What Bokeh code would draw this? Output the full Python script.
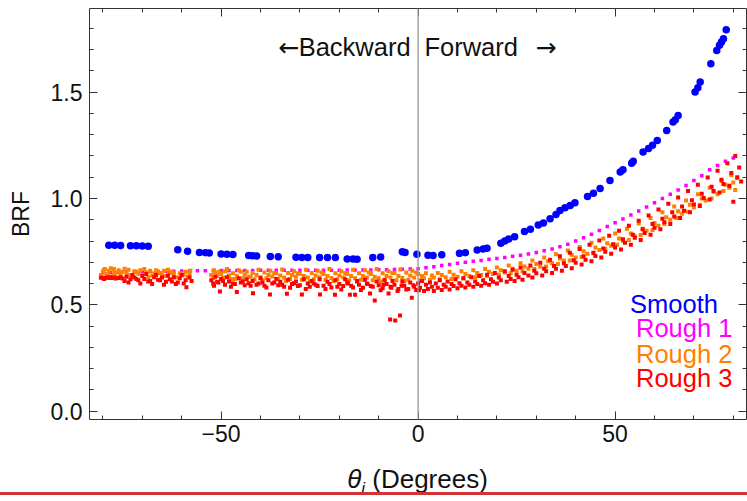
from bokeh.plotting import figure
from bokeh.models import Range1d, FixedTicker, LinearAxis, Span, Label, Div, PrintfTickFormatter
from bokeh.layouts import column
from bokeh.embed import file_html
from bokeh.resources import INLINE

# ---------------- data ----------------
smooth_x = [-78.5, -77, -75.5, -73, -71.5, -70, -68.5, -61, -58.5, -55.5, -54, -53,
            -50, -48.5, -47, -43, -42, -41, -37.5, -35.5, -31, -29.5, -28, -25, -23, -21,
            -18, -16.5, -15.5, -11.5, -9.5, -4, -3.3, -0.3, 2.5, 3.8, 6, 10.5, 12,
            15, 16.5, 17.5, 21, 22, 23, 24.5, 27, 28.5, 30.5, 31.8, 33.5, 35, 36, 37.3,
            38.6, 39.8, 43, 44.5, 46.2, 48.7, 51.3, 52, 54.2, 54.6, 57.1, 58.5, 59.5,
            60.7, 63.1, 64.7, 65.3, 66, 70.3, 71, 71.6, 74.3, 75.8, 76.5, 77, 77.5, 78.2]
smooth_y = [0.780, 0.780, 0.779, 0.778, 0.778, 0.776, 0.775, 0.759, 0.752, 0.746, 0.745, 0.744,
            0.739, 0.738, 0.737, 0.732, 0.731, 0.730, 0.727, 0.726, 0.724, 0.723, 0.723, 0.723,
            0.723, 0.722, 0.716, 0.715, 0.714, 0.723, 0.725, 0.749, 0.746, 0.738, 0.733, 0.732,
            0.735, 0.742, 0.745, 0.758, 0.763, 0.766, 0.790, 0.800, 0.810, 0.820, 0.845, 0.855,
            0.875, 0.885, 0.905, 0.925, 0.943, 0.956, 0.967, 0.980, 1.009, 1.025, 1.047, 1.085,
            1.124, 1.135, 1.166, 1.175, 1.218, 1.235, 1.250, 1.273, 1.320, 1.359, 1.370, 1.390,
            1.500, 1.520, 1.547, 1.633, 1.696, 1.720, 1.735, 1.751, 1.793]

rough1_x = [-80, -78, -76, -74, -72, -70, -68, -66, -64, -62, -60, -58, -56, -54, -52, -50,
            -48, -46, -44, -42, -40, -38, -36, -34, -32, -30, -28, -26, -24, -22, -20, -18,
            -16, -14, -12, -10, -8, -6, -4, -2, 0, 2, 4, 6, 8, 10, 12, 14, 16, 18, 20, 22,
            24, 26, 28, 30, 32, 34, 36, 38, 40, 42, 44, 46, 48, 50, 52, 54, 56, 58, 60, 62,
            64, 66, 68, 70, 72, 74, 76, 78, 80]
rough1_y = [0.650, 0.652, 0.653, 0.654, 0.655, 0.656, 0.657, 0.657, 0.658, 0.658, 0.659, 0.659,
            0.660, 0.660, 0.660, 0.661, 0.661, 0.661, 0.661, 0.661, 0.662, 0.662, 0.662, 0.662,
            0.662, 0.662, 0.663, 0.663, 0.663, 0.663, 0.663, 0.664, 0.664, 0.664, 0.664, 0.665,
            0.665, 0.666, 0.667, 0.668, 0.670, 0.674, 0.679, 0.685, 0.690, 0.695, 0.700, 0.705,
            0.709, 0.714, 0.718, 0.723, 0.728, 0.733, 0.739, 0.746, 0.754, 0.763, 0.773, 0.785,
            0.800, 0.815, 0.832, 0.850, 0.868, 0.886, 0.904, 0.922, 0.941, 0.960, 0.980, 1.000,
            1.020, 1.040, 1.061, 1.085, 1.107, 1.135, 1.155, 1.175, 1.190]

rough2_x = [-80.5, -80, -79.5, -79, -78.5, -78, -77.5, -77, -76, -75.5, -75, -74, -73.5, -73,
            -72, -71, -70.5, -70, -69, -68, -67.5, -67, -66, -65, -64.5, -64, -63, -62, -61.5,
            -60.5, -60, -59, -58.5, -58, -52.5, -52, -51.5, -51, -50, -49.5, -49, -48, -47.5,
            -47, -46, -45, -44.5, -44, -43, -42, -41.5, -41, -40, -39, -38.5, -38, -37, -36,
            -35.5, -35, -34, -33, -32.5, -32, -31, -30, -29.5, -29, -28, -27, -26.5, -26, -25,
            -24, -23.5, -23, -22, -21, -20.5, -20, -19, -18, -17.5, -17, -16, -15, -14.5, -14,
            -13, -12, -11.5, -11, -10, -9, -8.5, -8, -7, -6, -5.5, -5, -4, -3, -2.5, -2, -1, 0,
            0.5, 1, 1.5, 2, 3, 3.5, 4, 5, 5.5, 6, 7, 8, 8.5, 9, 10, 11, 11.5, 12, 13, 14, 14.5,
            15, 16, 17, 17.5, 18, 19, 20, 20.5, 21, 22, 23, 23.5, 24, 25, 26, 26.5, 27, 28, 29,
            29.5, 30, 31, 32, 32.5, 33, 34, 35, 35.5, 36, 37, 38, 38.5, 39, 40, 41, 41.5, 42,
            43, 44, 44.5, 45, 46, 47, 47.5, 48, 49, 50, 50.5, 51, 52, 53, 53.5, 54, 55, 56,
            56.5, 57, 58, 59, 59.5, 60, 61, 62, 62.5, 63, 64, 65, 65.5, 66, 67, 68, 68.5, 69,
            70, 71, 71.5, 72, 73, 74, 74.5, 75, 76, 77, 77.5, 78, 79, 79.5, 80, 80.5, 81,
            -79.8, -78.8, -77.2, -76.5, -74.5, -72.5, -71.5, -69.5, -68.5, -66.5, -65.5, -63.5,
            -62.5, -59.5, -57.8, -51.8, -50.5, -48.5, -46.5, -45.5, -43.5, -42.5, -40.5, -39.5,
            -37.5, -36.5, -34.5, -33.5, -31.5, -30.5, -28.5, -27.5, -25.5, -24.5, -22.5, -21.5,
            -19.5, -18.5, -16.5, -15.5, -13.5, -12.5, -10.5, -9.5, -7.5, -6.5, -4.5, -3.5,
            -1.5, -0.5]
rough2_y = [0.640, 0.655, 0.668, 0.645, 0.660, 0.672, 0.638, 0.650, 0.662, 0.645, 0.655, 0.648,
            0.665, 0.640, 0.658, 0.646, 0.662, 0.640, 0.652, 0.660, 0.638, 0.648, 0.656, 0.642,
            0.660, 0.635, 0.650, 0.645, 0.630, 0.648, 0.638, 0.655, 0.632, 0.645, 0.640, 0.625,
            0.652, 0.635, 0.645, 0.628, 0.658, 0.638, 0.622, 0.648, 0.635, 0.655, 0.625, 0.642,
            0.632, 0.650, 0.620, 0.640, 0.630, 0.652, 0.625, 0.640, 0.633, 0.648, 0.620, 0.638,
            0.628, 0.650, 0.622, 0.640, 0.632, 0.646, 0.618, 0.636, 0.628, 0.650, 0.620, 0.638,
            0.630, 0.645, 0.618, 0.635, 0.626, 0.648, 0.620, 0.638, 0.628, 0.645, 0.615, 0.635,
            0.625, 0.648, 0.618, 0.636, 0.628, 0.645, 0.615, 0.632, 0.625, 0.648, 0.618, 0.636,
            0.628, 0.650, 0.615, 0.635, 0.626, 0.652, 0.618, 0.638, 0.628, 0.645, 0.615, 0.635,
            0.625, 0.648, 0.618, 0.638, 0.628, 0.650, 0.620, 0.640, 0.630, 0.655, 0.622, 0.642,
            0.632, 0.658, 0.625, 0.645, 0.636, 0.662, 0.630, 0.650, 0.640, 0.668, 0.635, 0.655,
            0.645, 0.675, 0.642, 0.662, 0.652, 0.685, 0.648, 0.670, 0.660, 0.695, 0.658, 0.680,
            0.670, 0.708, 0.668, 0.692, 0.680, 0.722, 0.680, 0.705, 0.695, 0.738, 0.692, 0.718,
            0.708, 0.755, 0.708, 0.735, 0.722, 0.772, 0.725, 0.752, 0.740, 0.792, 0.742, 0.770,
            0.758, 0.812, 0.762, 0.790, 0.778, 0.835, 0.782, 0.812, 0.800, 0.858, 0.805, 0.835,
            0.822, 0.882, 0.828, 0.858, 0.848, 0.908, 0.852, 0.885, 0.872, 0.935, 0.880, 0.912,
            0.900, 0.962, 0.908, 0.940, 0.928, 0.990, 0.938, 0.970, 0.958, 1.020, 0.970, 1.000,
            0.990, 1.050, 1.000, 1.032, 1.020, 1.082, 1.035, 1.065, 1.050, 1.110, 1.075, 1.040,
            1.095,
            0.662, 0.635, 0.668, 0.652, 0.670, 0.632, 0.655, 0.668, 0.630, 0.662, 0.650, 0.665,
            0.655, 0.642, 0.660, 0.662, 0.655, 0.668, 0.622, 0.662, 0.655, 0.632, 0.665, 0.615,
            0.660, 0.650, 0.666, 0.612, 0.658, 0.648, 0.665, 0.610, 0.660, 0.652, 0.668, 0.612,
            0.658, 0.650, 0.665, 0.608, 0.662, 0.652, 0.668, 0.610, 0.658, 0.650, 0.666, 0.612,
            0.660, 0.652]

rough3_x = [-80.5, -80, -79.5, -79, -78.5, -78, -77.5, -77, -76.5, -76, -75.5, -75, -74, -73,
            -72.5, -72, -71, -70, -69.5, -69, -68, -67, -66.5, -66, -65, -64, -63.5, -63, -62,
            -61, -60.5, -60, -59, -58.8, -58, -57.5, -52.5, -52, -51.5, -51, -50.3, -50, -49,
            -48.5, -48, -47, -46, -45.5, -45, -44, -43.5, -43, -42, -41.9, -41, -40, -39.5,
            -39, -38, -37.6, -37, -36, -35.5, -35, -34, -33.3, -33, -32, -31, -30.5, -29.5,
            -29, -28, -27.5, -27, -26, -25, -24.9, -24, -23, -22, -21.1, -21, -20, -19, -18.5,
            -18, -17.3, -17, -16, -15.5, -15, -14, -13.5, -13, -12.2, -12, -11, -10.5, -10,
            -9, -8.5, -8, -7.5, -7.1, -7, -6.5, -6, -5.8, -5, -4.6, -4, -3.5, -3, -2, -1.6, -1,
            -0.5, 0, 0.5, 1, 1.5, 2, 2.5, 3, 3.5, 4, 4.5, 5, 5.5, 6, 6.5, 7, 7.5, 8, 8.5, 9,
            9.5, 10, 10.5, 11, 11.5, 12, 12.5, 13, 13.5, 14, 14.5, 15, 15.5, 16, 16.5, 17, 17.5,
            18, 18.5, 19, 19.5, 20, 20.5, 21, 22, 22.5, 23, 23.5, 24, 24.5, 25, 25.5, 26, 26.5,
            27, 28, 28.5, 29, 29.5, 30, 31, 31.5, 32, 32.5, 33.5, 34, 34.5, 35, 36, 36.5, 37,
            37.5, 38.5, 39, 39.5, 40, 41, 41.5, 42, 42.5, 43.5, 44, 44.5, 45, 46, 46.5, 47,
            47.5, 48.5, 49, 49.5, 50, 51, 51.5, 52, 52.5, 53.5, 54, 54.5, 55, 56, 56.5, 57,
            57.5, 58.5, 59, 59.5, 60, 61, 61.5, 62, 62.5, 63.5, 64, 64.5, 65, 66, 66.5, 67,
            67.5, 68.5, 69, 69.5, 70, 71, 71.5, 72, 72.5, 73.5, 74, 74.5, 75, 76, 76.5, 77,
            77.5, 78.5, 79, 79.5, 80, 80.5, 81, 81.5, 82,
            -79.7, -78.2, -76.8, -74.5, -73.5, -71.5, -70.5, -68.5, -67.5, -65.5, -64.5, -62.5,
            -61.5, -59.5, -51.8, -50.7, -49.5, -47.5, -46.5, -44.5, -42.5, -40.5, -38.5, -36.5,
            -34.5, -32.5, -31.5, -30, -28.5, -26.5, -25.5, -23.5, -22.5, -20.5, -19.5, -17.8,
            -16.5, -14.5, -12.8, -11.5, -9.5, -8.8, -6.8, -5.2, -4.2, -2.5, -1.2, 0.2]
rough3_y = [0.627, 0.627, 0.626, 0.628, 0.627, 0.626, 0.627, 0.628, 0.627, 0.626, 0.630, 0.624,
            0.632, 0.620, 0.640, 0.628, 0.615, 0.635, 0.622, 0.645, 0.612, 0.630, 0.640, 0.618,
            0.628, 0.608, 0.638, 0.620, 0.630, 0.605, 0.625, 0.640, 0.615, 0.583, 0.628, 0.612,
            0.615, 0.600, 0.632, 0.608, 0.563, 0.622, 0.595, 0.630, 0.610, 0.600, 0.560, 0.625,
            0.605, 0.592, 0.620, 0.602, 0.612, 0.555, 0.595, 0.625, 0.605, 0.590, 0.615, 0.549,
            0.600, 0.622, 0.592, 0.608, 0.585, 0.552, 0.618, 0.598, 0.610, 0.588, 0.549, 0.620,
            0.600, 0.585, 0.612, 0.595, 0.620, 0.549, 0.590, 0.608, 0.582, 0.547, 0.615, 0.598,
            0.588, 0.620, 0.605, 0.547, 0.590, 0.547, 0.612, 0.595, 0.580, 0.618, 0.600, 0.553,
            0.588, 0.520, 0.610, 0.592, 0.578, 0.615, 0.598, 0.553, 0.431, 0.585, 0.612, 0.595,
            0.426, 0.575, 0.450, 0.610, 0.590, 0.572, 0.605, 0.533, 0.585, 0.570, 0.600, 0.580,
            0.612, 0.565, 0.595, 0.575, 0.605, 0.585, 0.565, 0.600, 0.580, 0.615, 0.570, 0.595,
            0.585, 0.610, 0.572, 0.598, 0.588, 0.620, 0.578, 0.602, 0.590, 0.625, 0.582, 0.605,
            0.595, 0.630, 0.585, 0.610, 0.598, 0.635, 0.590, 0.615, 0.602, 0.642, 0.595, 0.620,
            0.608, 0.650, 0.600, 0.628, 0.615, 0.658, 0.608, 0.635, 0.622, 0.665, 0.612, 0.642,
            0.630, 0.675, 0.618, 0.650, 0.638, 0.685, 0.628, 0.660, 0.648, 0.698, 0.638, 0.670,
            0.658, 0.712, 0.650, 0.682, 0.670, 0.728, 0.660, 0.695, 0.682, 0.745, 0.672, 0.710,
            0.698, 0.762, 0.690, 0.728, 0.712, 0.782, 0.705, 0.745, 0.730, 0.802, 0.722, 0.765,
            0.750, 0.825, 0.740, 0.785, 0.770, 0.848, 0.760, 0.808, 0.792, 0.872, 0.782, 0.830,
            0.815, 0.895, 0.805, 0.855, 0.838, 0.920, 0.830, 0.880, 0.862, 0.948, 0.855, 0.905,
            0.888, 0.975, 0.880, 0.935, 0.915, 1.005, 0.908, 0.962, 0.942, 1.035, 0.935, 0.992,
            0.972, 1.065, 0.965, 1.022, 1.002, 1.098, 0.995, 1.055, 1.035, 1.130, 1.028, 1.088,
            1.068, 1.165, 1.060, 1.120, 0.985, 1.200, 1.100, 1.145, 1.080,
            0.622, 0.630, 0.624, 0.612, 0.605, 0.622, 0.600, 0.610, 0.598, 0.615, 0.595, 0.610,
            0.598, 0.600, 0.590, 0.605, 0.612, 0.585, 0.598, 0.610, 0.590, 0.600, 0.582, 0.605,
            0.595, 0.580, 0.602, 0.592, 0.575, 0.600, 0.588, 0.575, 0.598, 0.585, 0.572, 0.600,
            0.582, 0.570, 0.598, 0.585, 0.568, 0.595, 0.580, 0.565, 0.590, 0.575, 0.592, 0.568]

legend_labels = ["Smooth", "Rough 1", "Rough 2", "Rough 3"]
x_major_ticks = [-50, 0, 50]
y_major_ticks = [0.0, 0.5, 1.0, 1.5]

# ---------------- styling ----------------
FONT = "Liberation Sans"
FRAME = "#333333"
TXT = "#111111"
BLUE, MAGENTA, ORANGE, RED = "#0000ff", "#ff00ff", "#ff8000", "#ff0000"

p = figure(width=747, height=452, output_backend="svg", toolbar_location=None,
           x_range=Range1d(-83.4, 83.35), y_range=Range1d(-0.039, 1.893),
           min_border_left=89, min_border_right=1, min_border_top=8, min_border_bottom=33)
p.outline_line_color = None
p.xgrid.visible = False
p.ygrid.visible = False

bottom_axis = p.below[0]
left_axis = p.left[0]
top_axis = LinearAxis()
right_axis = LinearAxis()
p.add_layout(top_axis, "above")
p.add_layout(right_axis, "right")

for ax in [bottom_axis, top_axis]:
    ax.ticker = FixedTicker(ticks=x_major_ticks, minor_ticks=list(range(-80, 81, 10)))
for ax in [left_axis, right_axis]:
    ax.ticker = FixedTicker(ticks=y_major_ticks, minor_ticks=[i / 10 for i in range(0, 19)])

for ax in [bottom_axis, left_axis, top_axis, right_axis]:
    ax.axis_line_color = FRAME
    ax.major_tick_line_color = FRAME
    ax.minor_tick_line_color = FRAME
    ax.major_tick_in = 8
    ax.major_tick_out = 0
    ax.minor_tick_in = 4
    ax.minor_tick_out = 0
    ax.major_label_text_font = FONT
    ax.major_label_text_font_size = "23px"
    ax.major_label_text_color = TXT

for ax in [top_axis, right_axis]:
    ax.major_label_text_color = None
    ax.major_label_standoff = 0

bottom_axis.major_label_overrides = {-50: "\u221250", 0: "0", 50: "50"}
bottom_axis.major_label_standoff = 5
left_axis.formatter = PrintfTickFormatter(format="%.1f")
left_axis.major_label_standoff = 7
left_axis.axis_label = "BRF"
left_axis.axis_label_text_font = FONT
left_axis.axis_label_text_font_size = "23px"
left_axis.axis_label_text_font_style = "normal"
left_axis.axis_label_text_color = TXT
left_axis.axis_label_standoff = 14

p.add_layout(Span(location=0, dimension="height", line_color="#9a9a9a", line_width=1.3))

p.scatter(smooth_x, smooth_y, marker="circle", size=7.5, fill_color=BLUE, line_color=None)
p.scatter(rough1_x, rough1_y, marker="square", size=3.5, fill_color=MAGENTA, line_color=None)
p.scatter(rough2_x, rough2_y, marker="square", size=4, fill_color=ORANGE, line_color=None)
p.scatter(rough3_x, rough3_y, marker="square", size=4, fill_color=RED, line_color=None)

# direction annotation
ann_y = 1.71
p.add_layout(Label(x=-30.1, y=ann_y, text="\u2190", text_align="right", text_baseline="middle",
                   text_font="DejaVu Sans", text_font_size="25px", text_color=TXT))
p.add_layout(Label(x=-1.9, y=ann_y, text="Backward", text_align="right", text_baseline="middle",
                   text_font=FONT, text_font_size="25.5px", text_color=TXT))
p.add_layout(Label(x=1.6, y=ann_y, text="Forward", text_align="left", text_baseline="middle",
                   text_font=FONT, text_font_size="25.5px", text_color=TXT))
p.add_layout(Label(x=29.8, y=ann_y, text="\u2192", text_align="left", text_baseline="middle",
                   text_font="DejaVu Sans", text_font_size="25px", text_color=TXT))

# legend text
legend_colors = [BLUE, MAGENTA, ORANGE, RED]
legend_pos = [(53.8, 0.506), (55.3, 0.389), (55.3, 0.271), (55.3, 0.154)]
for lab, col, (lx, ly) in zip(legend_labels, legend_colors, legend_pos):
    p.add_layout(Label(x=lx, y=ly, text=lab, text_align="left", text_baseline="middle",
                       text_font=FONT, text_font_size="25.5px", text_color=col))

# x axis label (HTML so that theta and its subscript can be italic)
xlabel_html = (
    '<div style="position:relative;width:747px;height:40px;'
    "font-family:'Liberation Sans',Arial,sans-serif;color:#111111;\">"
    '<span style="position:absolute;left:417.5px;top:12px;transform:translateX(-50%);'
    'white-space:nowrap;font-size:26px;line-height:30px;">'
    '<i>\u03b8</i><i style="font-size:17px;position:relative;top:6px;">i</i>'
    '&nbsp;(Degrees)</span></div>'
)
xlabel = Div(text=xlabel_html, width=747, height=40, margin=0)
red_rule = Div(width=747, height=3, margin=0, styles={"background-color": "#d13438"})
pad = Div(width=747, height=6, margin=0)
layout = column(p, xlabel, red_rule, pad, spacing=0)

open("out.html", "w").write(file_html(layout, INLINE))
